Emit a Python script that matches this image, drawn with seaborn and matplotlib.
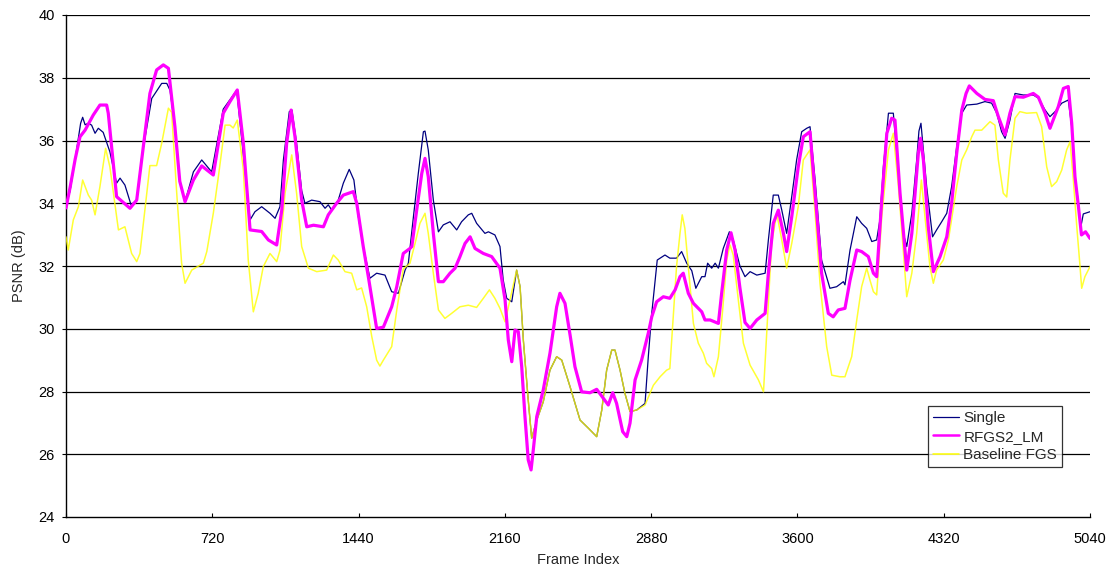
import matplotlib
matplotlib.use("Agg")
import matplotlib.pyplot as plt
import seaborn as sns
import pandas as pd

# ---------------- data ----------------
single_frames = [0, 20, 45, 72, 82, 94, 110, 126, 143, 159, 183, 216, 249, 266, 290, 320, 348, 373, 422, 471,
                 496, 512, 536, 560, 586, 627, 668, 717, 774, 840, 906, 930, 963, 1004, 1029, 1053, 1070, 1099,
                 1112, 1135, 1160, 1176, 1209, 1250, 1275, 1291, 1308, 1340, 1365, 1394, 1417, 1439, 1463, 1496,
                 1529, 1570, 1603, 1636, 1669, 1685, 1710, 1734, 1759, 1767, 1783, 1808, 1833, 1857, 1890, 1923,
                 1947, 1980, 1997, 2021, 2062, 2079, 2111, 2136, 2152, 2169, 2194, 2218, 2235, 2251, 2275, 2292,
                 2317, 2349, 2382, 2415, 2440, 2481, 2530, 2571, 2612, 2637, 2661, 2686, 2702, 2727, 2751, 2776,
                 2809, 2850, 2866, 2883, 2910, 2948, 2972, 3005, 3030, 3055, 3080, 3100, 3129, 3145, 3158, 3178,
                 3195, 3211, 3235, 3265, 3284, 3317, 3342, 3367, 3400, 3441, 3457, 3481, 3506, 3523, 3547, 3572,
                 3596, 3621, 3646, 3662, 3687, 3719, 3760, 3793, 3826, 3834, 3859, 3892, 3916, 3941, 3966, 3990,
                 4006, 4023, 4048, 4072, 4097, 4121, 4138, 4163, 4187, 4198, 4208, 4236, 4265, 4285, 4310, 4335,
                 4359, 4384, 4409, 4433, 4483, 4523, 4556, 4581, 4605, 4622, 4646, 4671, 4712, 4761, 4786, 4819,
                 4843, 4868, 4901, 4933, 4950, 4966, 4983, 4995, 5007, 5040]
single_psnr = [33.9, 34.4, 35.4, 36.55, 36.74, 36.5, 36.55, 36.49, 36.23, 36.39, 36.26, 35.64, 34.64, 34.8, 34.58,
               33.95, 34.1, 35.48, 37.34, 37.82, 37.82, 37.6, 36.44, 34.7, 34.05, 35.0, 35.38, 35.0, 37.0, 37.6,
               33.47, 33.73, 33.89, 33.68, 33.52, 33.89, 35.38, 36.92, 36.97, 35.91, 34.4, 34.0, 34.1, 34.05,
               33.84, 33.95, 33.78, 34.1, 34.64, 35.08, 34.74, 33.57, 32.62, 31.61, 31.77, 31.71, 31.18, 31.13,
               31.87, 32.09, 33.57, 34.95, 36.28, 36.3, 35.7, 34.1, 33.09, 33.31, 33.41, 33.15, 33.41, 33.63,
               33.68, 33.36, 33.04, 33.09, 32.99, 32.62, 31.55, 30.97, 30.86, 31.87, 31.34, 29.64, 27.73, 26.51,
               27.09, 27.67, 28.68, 29.11, 29.0, 28.15, 27.09, 26.83, 26.56, 27.41, 28.68, 29.32, 29.32, 28.68,
               27.94, 27.36, 27.41, 27.62, 29.11, 30.49, 32.19, 32.35, 32.25, 32.25, 32.46, 32.09, 31.85, 31.29,
               31.66, 31.66, 32.09, 31.93, 32.09, 31.93, 32.56, 33.09, 32.83, 32.0, 31.66, 31.82, 31.71, 31.77,
               32.83, 34.26, 34.26, 33.78, 33.04, 34.21, 35.38, 36.28, 36.39, 36.44, 34.74, 32.19, 31.29, 31.34,
               31.5, 31.4, 32.51, 33.57, 33.36, 33.2, 32.78, 32.83, 33.47, 35.16, 36.87, 36.87, 34.95, 33.04,
               32.62, 33.68, 35.38, 36.3, 36.55, 34.53, 32.93, 33.15, 33.41, 33.68, 34.53, 35.8, 36.87, 37.13,
               37.16, 37.24, 37.19, 36.87, 36.28, 36.07, 36.65, 37.5, 37.45, 37.45, 37.35, 36.97, 36.76, 36.92,
               37.19, 37.29, 36.44, 34.85, 34.0, 33.25, 33.66, 33.73]

rfgs_frames = [0, 20, 45, 69, 94, 134, 167, 200, 208, 249, 315, 348, 413, 446, 479, 504, 536, 560, 586, 627, 668,
               725, 774, 807, 843, 873, 906, 963, 996, 1037, 1062, 1086, 1108, 1127, 1160, 1185, 1218, 1267, 1291,
               1332, 1365, 1414, 1431, 1463, 1488, 1529, 1562, 1603, 1628, 1660, 1693, 1702, 1726, 1751, 1767,
               1783, 1808, 1833, 1857, 1890, 1915, 1939, 1964, 1989, 2013, 2054, 2095, 2136, 2161, 2177, 2194,
               2210, 2226, 2243, 2259, 2275, 2289, 2300, 2317, 2349, 2382, 2415, 2431, 2456, 2481, 2505, 2538,
               2579, 2612, 2645, 2669, 2691, 2710, 2740, 2760, 2776, 2801, 2833, 2866, 2883, 2907, 2940, 2972,
               2998, 3022, 3038, 3063, 3088, 3129, 3145, 3170, 3211, 3227, 3252, 3273, 3293, 3317, 3342, 3367,
               3400, 3441, 3457, 3481, 3506, 3531, 3547, 3572, 3604, 3629, 3662, 3687, 3719, 3752, 3776, 3801,
               3834, 3859, 3892, 3916, 3949, 3974, 3990, 4015, 4040, 4064, 4080, 4105, 4138, 4163, 4195, 4206,
               4220, 4244, 4269, 4302, 4335, 4359, 4384, 4409, 4430, 4446, 4483, 4523, 4564, 4589, 4622, 4646,
               4671, 4712, 4761, 4786, 4819, 4843, 4884, 4909, 4933, 4950, 4966, 4983, 4998, 5018, 5040]
rfgs_psnr = [33.85, 34.5, 35.4, 36.12, 36.33, 36.81, 37.13, 37.13, 36.87, 34.21, 33.84, 34.1, 37.5, 38.25, 38.41,
             38.3, 36.44, 34.7, 34.05, 34.74, 35.19, 34.9, 36.87, 37.24, 37.61, 35.91, 33.15, 33.1, 32.83, 32.67,
             33.78, 35.91, 36.97, 36.12, 34.1, 33.25, 33.3, 33.25, 33.63, 34.0, 34.26, 34.37, 34.0, 32.62, 31.66,
             30.01, 30.05, 30.7, 31.34, 32.4, 32.56, 32.62, 33.78, 34.95, 35.43, 34.85, 33.04, 31.5, 31.5, 31.77,
             31.93, 32.3, 32.72, 32.93, 32.56, 32.4, 32.3, 31.93, 30.92, 29.64, 28.95, 29.96, 29.91, 28.79, 27.2,
             25.82, 25.5, 26.14, 27.2, 28.05, 29.22, 30.7, 31.13, 30.81, 29.8, 28.79, 27.99, 27.96, 28.07, 27.78,
             27.57, 27.96, 27.62, 26.72, 26.56, 26.99, 28.37, 29.0, 29.86, 30.38, 30.86, 31.02, 30.97, 31.24,
             31.66, 31.77, 31.13, 30.81, 30.54, 30.28, 30.28, 30.17, 31.13, 32.51, 33.06, 32.51, 31.3, 30.2,
             30.01, 30.28, 30.49, 31.77, 33.36, 33.78, 33.04, 32.46, 33.57, 35.16, 36.12, 36.28, 34.32, 31.77,
             30.49, 30.38, 30.6, 30.65, 31.55, 32.51, 32.46, 32.3, 31.77, 31.66, 34.1, 36.23, 36.71, 36.65, 34.32,
             31.87, 33.04, 35.59, 36.07, 35.38, 33.25, 31.82, 32.3, 32.93, 34.0, 35.59, 36.97, 37.5, 37.74, 37.5,
             37.31, 37.27, 36.76, 36.18, 36.87, 37.4, 37.38, 37.5, 37.38, 36.87, 36.39, 37.08, 37.66, 37.72, 36.55,
             34.85, 33.9, 32.99, 33.09, 32.88]

fgs_frames = [0, 11, 36, 61, 82, 110, 126, 143, 167, 195, 216, 258, 290, 323, 348, 364, 413, 446, 471, 504, 520,
              545, 569, 586, 619, 676, 693, 725, 750, 783, 807, 823, 843, 873, 897, 922, 946, 971, 1004, 1037, 1053,
              1078, 1111, 1135, 1160, 1193, 1234, 1283, 1316, 1340, 1373, 1406, 1431, 1455, 1480, 1505, 1529, 1545,
              1562, 1603, 1628, 1660, 1693, 1718, 1742, 1767, 1783, 1808, 1833, 1865, 1898, 1939, 1980, 2021, 2054,
              2084, 2111, 2136, 2161, 2185, 2218, 2235, 2251, 2275, 2292, 2317, 2349, 2382, 2415, 2440, 2481, 2530,
              2571, 2612, 2637, 2661, 2686, 2702, 2727, 2751, 2776, 2809, 2850, 2891, 2924, 2956, 2972, 2989, 3005,
              3022, 3033, 3046, 3063, 3088, 3112, 3137, 3153, 3178, 3189, 3211, 3232, 3252, 3268, 3284, 3309, 3334,
              3367, 3408, 3433, 3449, 3473, 3498, 3523, 3547, 3572, 3604, 3629, 3662, 3687, 3711, 3744, 3769, 3809,
              3834, 3867, 3892, 3916, 3941, 3957, 3974, 3990, 4015, 4048, 4072, 4097, 4121, 4138, 4163, 4187, 4203,
              4210, 4228, 4252, 4269, 4285, 4318, 4343, 4384, 4409, 4433, 4458, 4474, 4507, 4548, 4572, 4589, 4613,
              4630, 4646, 4671, 4695, 4728, 4777, 4802, 4827, 4851, 4876, 4901, 4925, 4942, 4958, 4975, 4991, 4999,
              5015, 5040]
fgs_psnr = [32.93, 32.51, 33.47, 33.89, 34.74, 34.26, 34.1, 33.63, 34.53, 35.75, 35.16, 33.15, 33.25, 32.4, 32.14,
            32.4, 35.2, 35.2, 35.91, 37.03, 36.9, 34.32, 32.09, 31.45, 31.87, 32.09, 32.46, 33.68, 34.85, 36.49,
            36.49, 36.4, 36.65, 35.06, 32.19, 30.54, 31.13, 31.98, 32.4, 32.14, 32.5, 34.32, 35.54, 34.32, 32.62,
            31.93, 31.82, 31.87, 32.35, 32.19, 31.82, 31.77, 31.24, 31.3, 30.7, 29.75, 29.0, 28.81, 29.0, 29.43,
            30.6, 31.9, 32.09, 32.72, 33.36, 33.68, 33.04, 31.77, 30.6, 30.33, 30.49, 30.7, 30.75, 30.68, 30.97,
            31.24, 30.97, 30.65, 30.22, 30.92, 31.87, 31.34, 29.64, 27.73, 26.51, 27.09, 27.67, 28.68, 29.11, 29.0,
            28.15, 27.09, 26.83, 26.56, 27.41, 28.68, 29.32, 29.32, 28.68, 27.94, 27.36, 27.41, 27.57, 28.2, 28.47,
            28.68, 28.73, 30.38, 31.98, 33.04, 33.63, 33.2, 31.98, 30.17, 29.54, 29.22, 28.9, 28.73, 28.47, 29.11,
            30.6, 32.19, 32.67, 32.35, 30.92, 29.54, 28.84, 28.37, 27.99, 29.86, 32.72, 33.68, 32.83, 31.93, 32.72,
            33.89, 35.38, 35.7, 33.68, 31.45, 29.43, 28.52, 28.47, 28.47, 29.11, 30.28, 31.34, 31.93, 31.55, 31.18,
            31.08, 33.57, 35.7, 36.23, 34.53, 32.51, 31.02, 31.77, 33.04, 34.2, 34.74, 33.57, 31.98, 31.45, 31.87,
            32.19, 32.83, 34.53, 35.38, 35.7, 36.12, 36.33, 36.33, 36.6, 36.49, 35.38, 34.32, 34.2, 35.38, 36.71,
            36.92, 36.87, 36.89, 36.44, 35.16, 34.53, 34.69, 35.06, 35.7, 35.96, 34.74, 33.25, 31.98, 31.29, 31.66,
            31.98]

series_names = ["Single", "RFGS2_LM", "Baseline FGS"]
x_ticks = [0, 720, 1440, 2160, 2880, 3600, 4320, 5040]
y_ticks = [24, 26, 28, 30, 32, 34, 36, 38, 40]

# ---------------- plot ----------------
sns.set_style("white")
plt.rcParams["font.family"] = ["Liberation Sans", "DejaVu Sans"]

fig = plt.figure(figsize=(11.1, 5.68), dpi=100)
ax = fig.add_axes([66 / 1110, 1 - 517 / 568, 1024 / 1110, 502 / 568])

df_single = pd.DataFrame({"frame": single_frames, "psnr": single_psnr})
df_rfgs = pd.DataFrame({"frame": rfgs_frames, "psnr": rfgs_psnr})
df_fgs = pd.DataFrame({"frame": fgs_frames, "psnr": fgs_psnr})

for yv in y_ticks[1:]:
    ax.axhline(yv, color="black", lw=0.9, zorder=0.5)

sns.lineplot(data=df_single, x="frame", y="psnr", ax=ax, color="#000080", lw=0.9,
             label=series_names[0], sort=False, estimator=None, zorder=2)
sns.lineplot(data=df_rfgs, x="frame", y="psnr", ax=ax, color="#ff00ff", lw=2.3,
             label=series_names[1], sort=False, estimator=None, zorder=4)
sns.lineplot(data=df_fgs, x="frame", y="psnr", ax=ax, color="#ffff00", lw=1.1, alpha=0.8,
             label=series_names[2], sort=False, estimator=None, zorder=3)

ax.set_xlim(0, 5040)
ax.set_ylim(24, 40)
ax.set_xticks(x_ticks)
ax.set_yticks(y_ticks)
ax.tick_params(axis="x", direction="in", length=3, width=0.8, labelsize=10.5, pad=11, colors="black")
ax.tick_params(axis="y", direction="out", length=3, width=0.8, labelsize=10.5, pad=5, colors="black")
ax.tick_params(left=True, bottom=True)
ax.set_xlabel("Frame Index", fontsize=10.5, labelpad=5)
ax.set_ylabel("PSNR (dB)", fontsize=10.5, labelpad=9)

for side in ["top", "right"]:
    ax.spines[side].set_visible(False)
for side in ["left", "bottom"]:
    ax.spines[side].set_visible(True)
    ax.spines[side].set_color("black")
    ax.spines[side].set_linewidth(1.0)
ax.grid(False)

leg = ax.legend(loc="lower left", bbox_to_anchor=(0.842, 0.1), frameon=True, fancybox=False,
                fontsize=11, handlelength=1.7, handletextpad=0.3, labelspacing=0.3,
                borderpad=0.3, borderaxespad=0)
leg.get_frame().set_edgecolor("black")
leg.get_frame().set_linewidth(0.9)
leg.get_lines()[1].set_linewidth(1.8)
leg.get_lines()[2].set_alpha(1.0)
leg.set_zorder(10)

fig.savefig("out.png", dpi=100, facecolor="white")
